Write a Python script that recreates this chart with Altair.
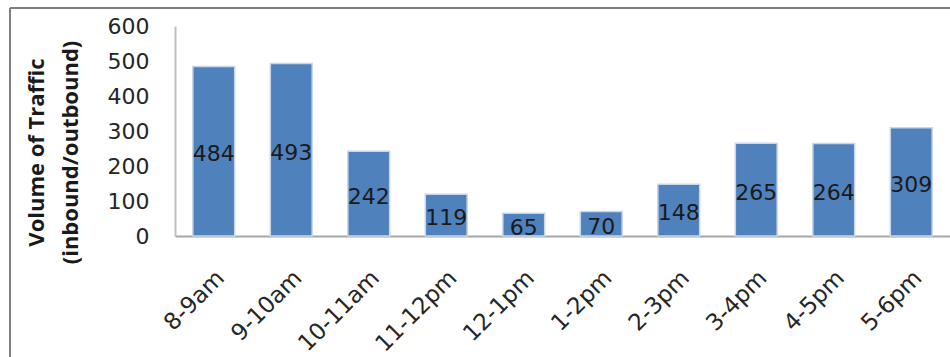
import altair as alt
import pandas as pd

periods = ["8-9am", "9-10am", "10-11am", "11-12pm", "12-1pm",
           "1-2pm", "2-3pm", "3-4pm", "4-5pm", "5-6pm"]
volumes = [484, 493, 242, 119, 65, 70, 148, 265, 264, 309]
y_ticks = [0, 100, 200, 300, 400, 500, 600]

df = pd.DataFrame({"period": periods, "volume": volumes})

W, H = 775, 210

x_axis = alt.Axis(
    title=None, labelAngle=-45, labelAlign="right", labelBaseline="middle",
    labelPadding=38, labelOffset=7, labelFont="DejaVu Sans", labelFontSize=23,
    labelColor="#262626", ticks=False, domainColor="#a6a6a6", domainWidth=2,
    grid=False, labelOverlap=False,
)
y_axis = alt.Axis(
    values=y_ticks, title=["Volume of Traffic", "(inbound/outbound)"],
    titleFont="Open Sans", titleFontSize=22, titleFontWeight="bold",
    titleColor="#1a1a1a", titleLineHeight=34, titleAngle=-90,
    titleAlign="center", titleBaseline="top", titleX=-149, titleY=126,
    labelFont="DejaVu Sans", labelFontSize=22, labelColor="#262626",
    labelPadding=26, ticks=False, grid=False, labelOverlap=False,
    labelFlush=False, domainColor="#c0c0c0", domainWidth=2,
)
x_scale = alt.Scale(paddingInner=0.46, paddingOuter=0.23)
y_scale = alt.Scale(domain=[0, 600], nice=False)

bars = alt.Chart(df).mark_bar(
    color="#4f81bd", stroke="#c9d6e8", strokeWidth=1.5
).encode(
    x=alt.X("period:N", sort=periods, scale=x_scale, axis=x_axis),
    y=alt.Y("volume:Q", scale=y_scale, axis=y_axis),
)

labels = alt.Chart(df).transform_calculate(
    mid="datum.volume / 2"
).mark_text(
    font="DejaVu Sans", fontSize=22, color="#1a1a1a", baseline="middle", dy=3
).encode(
    x=alt.X("period:N", sort=periods, scale=x_scale, axis=x_axis),
    y=alt.Y("mid:Q", scale=y_scale, axis=y_axis),
    text="volume:Q",
)

border_left = alt.Chart(df).mark_rule(color="#7f7f7f", strokeWidth=1.5).encode(
    x=alt.value(-165), y=alt.value(-18), y2=alt.value(H + 130)
)
border_top = alt.Chart(df).mark_rule(color="#7f7f7f", strokeWidth=1.5).encode(
    x=alt.value(-165), x2=alt.value(W + 10), y=alt.value(-18)
)

chart = alt.layer(bars, labels, border_left, border_top).properties(
    width=W, height=H,
    autosize=alt.AutoSizeParams(type="none"),
    padding={"left": 175, "top": 26, "right": 0, "bottom": 121},
    background="white",
).configure_view(stroke=None)

chart.save("out.html", embed_options={"renderer": "svg", "actions": False})
